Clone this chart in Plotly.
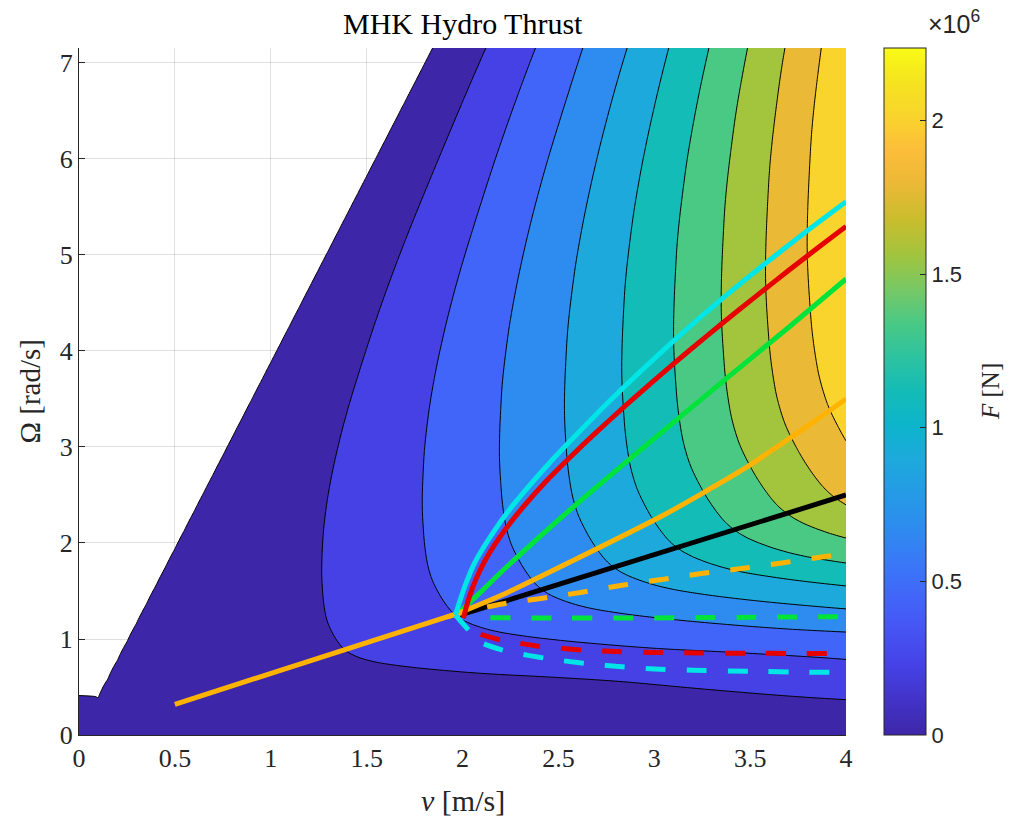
import numpy as np
import plotly.graph_objects as go

# ---------------------------------------------------------------------------
# Thrust map data.  The hydro thrust obeys F(v, Omega) = v^2 * k(Omega / v),
# so the whole map is described by the thrust-per-v^2 curve k against Omega/v.
# ---------------------------------------------------------------------------
omega_over_v = [0.00, 0.05, 0.10, 0.15, 0.20, 0.25, 0.30, 0.35, 0.40, 0.45,
                0.50, 0.55, 0.60, 0.65, 0.70, 0.80, 0.90, 1.00, 1.15, 1.35,
                1.60, 1.85, 2.00, 2.20, 2.40, 2.60, 2.80, 3.00, 3.20, 3.40,
                3.60, 3.88, 4.20, 5.00, 8.00, 80.0]
thrust_per_v2 = [2000, 8200, 15100, 21500, 28500, 38000, 49500, 61000, 72800, 84500,
                 95500, 104600, 112100, 117600, 121600, 128000, 133000, 136100, 138500, 139800,
                 138500, 134500, 130600, 123700, 115000, 104300, 92800, 79500, 63700, 47400,
                 27500, 0, -33000, -120000, -500000, -12000000]

# thrust at zero flow speed (v = 0 column of the map)
standstill_omega = [0.0, 0.42, 7.2]
standstill_thrust = [15000.0, 0.0, -600000.0]

# sampling grid of the map
v_axis = np.concatenate([[0.0], np.arange(0.1, 4.0 + 1e-9, 0.05)])
omega_axis = np.linspace(0.0, 7.156, 144)

# contour levels and colour limits [N]
level_step = 224000.0
level_top = 2016000.0
f_max = 2236000.0

# ---------------------------------------------------------------------------
# Operating trajectories Omega(v)
# ---------------------------------------------------------------------------
black_v = [1.98, 4.00]
black_om = [1.245, 2.50]

orange_v = [0.50, 1.98, 2.23, 2.58, 3.03, 3.45, 3.83, 4.00]
orange_om = [0.32, 1.27, 1.48, 1.82, 2.27, 2.75, 3.26, 3.50]
orange_low_v = [1.92, 1.98, 2.19, 2.40, 2.615, 2.833, 3.04, 3.255, 3.464, 3.674, 3.884, 4.00]
orange_low_om = [1.231, 1.265, 1.36, 1.42, 1.485, 1.56, 1.62, 1.684, 1.736, 1.795, 1.857, 1.885]

green_v = [1.98, 2.09, 2.23, 2.58, 3.03, 3.38, 3.70, 4.00]
green_om = [1.27, 1.48, 1.75, 2.38, 3.14, 3.72, 4.245, 4.75]
green_low_v = [2.145, 2.5, 3.0, 3.5, 4.0]
green_low_om = [1.222, 1.218, 1.220, 1.226, 1.233]

red_v = [2.005, 2.02, 2.04, 2.07, 2.11, 2.16, 2.23, 2.32, 2.43, 2.56, 2.70, 2.85,
         3.00, 3.175, 3.35, 3.525, 3.70, 3.85, 4.00]
red_om = [1.215, 1.335, 1.465, 1.621, 1.789, 1.959, 2.159, 2.384, 2.631, 2.891, 3.157, 3.43,
          3.694, 3.992, 4.281, 4.561, 4.838, 5.07, 5.298]
red_low_v = [2.094, 2.2, 2.3, 2.4, 2.5, 2.6, 2.8, 3.0, 3.25, 3.5, 3.75, 4.0]
red_low_om = [1.049, 0.99, 0.955, 0.925, 0.905, 0.888, 0.870, 0.860, 0.854, 0.851, 0.850, 0.850]

cyan_v = [1.963, 1.99, 2.02, 2.06, 2.11, 2.17, 2.25, 2.35, 2.47, 2.60, 2.75, 2.93,
          3.12, 3.345, 3.55, 3.78, 4.00]
cyan_om = [1.25, 1.42, 1.59, 1.78, 1.955, 2.14, 2.36, 2.60, 2.87, 3.14, 3.445, 3.79,
           4.14, 4.53, 4.865, 5.225, 5.555]
cyan_low_v = [1.963, 2.02, 2.094, 2.2, 2.3, 2.4, 2.5, 2.6, 2.7, 2.8, 3.0, 3.2, 3.5, 3.8, 4.0]
cyan_low_om = [1.25, 1.12, 0.966, 0.89, 0.845, 0.81, 0.78, 0.755, 0.735, 0.715, 0.688, 0.674, 0.663, 0.655, 0.652]

# ---------------------------------------------------------------------------
# Colours
# ---------------------------------------------------------------------------
band_colors = ['#3e26a8', '#4541e5', '#4265f9', '#2e8bef', '#1da9dc',
               '#14bcb7', '#4ac985', '#a3c43d', '#eab935', '#f9d42d']
parula = [[0.00, '#3e26a8'], [0.05, '#4233c8'], [0.10, '#4541e5'], [0.15, '#4653f3'],
          [0.20, '#4265f9'], [0.25, '#3978f7'], [0.30, '#2e8bef'], [0.35, '#259ae6'],
          [0.40, '#1da9dc'], [0.45, '#0cb4cb'], [0.50, '#14bcb7'], [0.55, '#2dc3a0'],
          [0.60, '#4ac985'], [0.65, '#78c864'], [0.70, '#a3c43d'], [0.75, '#c9bd2c'],
          [0.80, '#eab935'], [0.85, '#fcbd3a'], [0.90, '#f9d42d'], [0.95, '#f5e31f'],
          [1.00, '#f9fb15']]
c_cyan, c_red, c_green, c_orange = '#00e5e5', '#e60000', '#00e33b', '#ffb300'
axis_gray = '#262626'
serif = 'Liberation Serif'
sans = 'Liberation Sans'


def pchip(x, xp, yp):
    """Shape-preserving cubic through the tabulated points."""
    xp = np.asarray(xp, float)
    yp = np.asarray(yp, float)
    h = np.diff(xp)
    d = np.diff(yp) / h
    m = np.zeros_like(yp)
    m[0], m[-1] = d[0], d[-1]
    for k in range(1, len(xp) - 1):
        if d[k - 1] * d[k] > 0:
            w1 = 2 * h[k] + h[k - 1]
            w2 = h[k] + 2 * h[k - 1]
            m[k] = (w1 + w2) / (w1 / d[k - 1] + w2 / d[k])
    x = np.asarray(x, float)
    i = np.clip(np.searchsorted(xp, x) - 1, 0, len(xp) - 2)
    t = (x - xp[i]) / h[i]
    t2, t3 = t * t, t * t * t
    return ((2 * t3 - 3 * t2 + 1) * yp[i] + (t3 - 2 * t2 + t) * h[i] * m[i]
            + (-2 * t3 + 3 * t2) * yp[i + 1] + (t3 - t2) * h[i] * m[i + 1])


# ---------------------------------------------------------------------------
# Thrust grid
# ---------------------------------------------------------------------------
V, W = np.meshgrid(v_axis, omega_axis)
safe_v = np.where(V > 0, V, 1.0)
F = V ** 2 * pchip(W / safe_v, omega_over_v, thrust_per_v2)
F[:, 0] = np.interp(omega_axis, standstill_omega, standstill_thrust)

# negative thrust stays unfilled; each band gets its own flat colour
fill_scale = [[0.0, 'rgba(255,255,255,0)']] + \
             [[(k + 1) / 10.0, c] for k, c in enumerate(band_colors)]

fig = go.Figure()
fig.add_trace(go.Contour(
    x=v_axis, y=omega_axis, z=F,
    autocontour=False,
    contours=dict(start=0.0, end=level_top + 0.4 * level_step, size=level_step,
                  coloring='fill', showlines=True),
    colorscale=fill_scale, showscale=False,
    line=dict(color='black', width=1.0, smoothing=0.8),
    hoverinfo='skip',
))

dash = '20px,21px'
lw = 5


def add_line(xs, ys, color, dashed=False):
    fig.add_trace(go.Scatter(x=xs, y=ys, mode='lines',
                             line=dict(color=color, width=lw, shape='spline', smoothing=0.6,
                                       dash=dash if dashed else 'solid'),
                             hoverinfo='skip', showlegend=False))


add_line(black_v, black_om, 'black')
add_line(green_v, green_om, c_green)
add_line(green_low_v, green_low_om, c_green, True)
add_line(orange_v[:2], orange_om[:2], c_orange)
add_line(orange_v[1:], orange_om[1:], c_orange)
add_line(orange_low_v, orange_low_om, c_orange, True)
add_line(red_v, red_om, c_red)
add_line(red_low_v, red_low_om, c_red, True)
add_line(cyan_v, cyan_om, c_cyan)
add_line(cyan_low_v, cyan_low_om, c_cyan, True)

# continuous colour bar
fig.add_trace(go.Scatter(
    x=[-1], y=[-1], mode='markers', hoverinfo='skip', showlegend=False,
    marker=dict(size=1, opacity=0, color=[0], cmin=0, cmax=f_max, colorscale=parula,
                showscale=True,
                colorbar=dict(x=(884 - 79) / 767, xanchor='left', xpad=0,
                              y=0.5, yanchor='middle', ypad=0, len=1, lenmode='fraction',
                              thickness=42, thicknessmode='pixels',
                              outlinewidth=1, outlinecolor=axis_gray,
                              ticks='inside', ticklen=6, tickwidth=1, tickcolor=axis_gray,
                              tickvals=[0, 0.5e6, 1.0e6, 1.5e6, 2.0e6],
                              ticktext=['0', '0.5', '1', '1.5', '2'],
                              tickfont=dict(family=sans, size=22, color=axis_gray))),
))

axis_common = dict(ticks='inside', ticklen=6, tickwidth=1, tickcolor=axis_gray,
                   showline=True, linecolor=axis_gray, linewidth=1,
                   showgrid=True, gridcolor='rgba(38,38,38,0.15)', gridwidth=1,
                   zeroline=False, layer='below traces',
                   tickfont=dict(family=serif, size=26, color=axis_gray))

fig.update_xaxes(range=[0, 4], tickvals=[0, 0.5, 1, 1.5, 2, 2.5, 3, 3.5, 4],
                 ticktext=['0', '0.5', '1', '1.5', '2', '2.5', '3', '3.5', '4'],
                 **axis_common)
fig.update_yaxes(range=[0, 7.156], tickvals=[0, 1, 2, 3, 4, 5, 6, 7], **axis_common)


def px_x(p):
    return (p - 79) / 767


def px_y(p):
    return (735 - p) / 687


annotations = [
    dict(text='MHK Hydro Thrust', x=0.5, y=px_y(23), xanchor='center', yanchor='middle',
         font=dict(family=serif, size=30, color='black')),
    dict(text='<i>v</i> [m/s]', x=0.5, y=px_y(800), xanchor='center', yanchor='middle',
         font=dict(family=serif, size=30, color=axis_gray)),
    dict(text='Ω [rad/s]', x=px_x(29), y=0.5, xanchor='center', yanchor='middle',
         textangle=-90, font=dict(family=serif, size=29, color=axis_gray)),
    dict(text='<i>F</i> [N]', x=px_x(990), y=px_y(392), xanchor='center', yanchor='middle',
         textangle=-90, font=dict(family=serif, size=25, color=axis_gray)),
    dict(text='×10<sup>6</sup>', x=px_x(926), y=px_y(22), xanchor='left', yanchor='middle',
         font=dict(family=sans, size=25, color=axis_gray)),
]
for a in annotations:
    a.update(xref='paper', yref='paper', showarrow=False)

fig.update_layout(
    width=1010, height=816,
    margin=dict(l=79, r=164, t=48, b=81),
    paper_bgcolor='white', plot_bgcolor='white',
    showlegend=False,
    annotations=annotations,
)

fig.write_html('out.html')
